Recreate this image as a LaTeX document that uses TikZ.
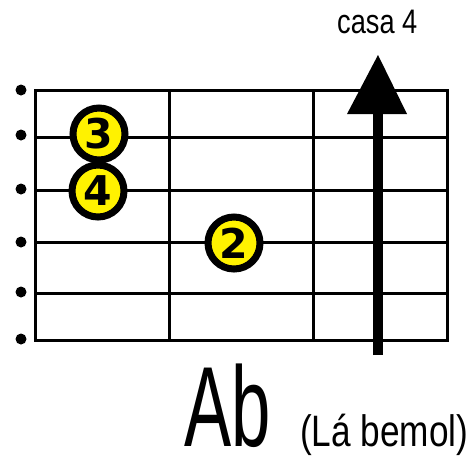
\documentclass[tikz,border=0pt]{standalone}
\usepackage{fontspec}
\setmainfont{Liberation Sans}
\newfontfamily\condbig[FakeStretch=0.62]{Liberation Sans}
\newfontfamily\condmid[FakeStretch=0.80]{Liberation Sans}
\newfontfamily\condsmall[FakeStretch=0.80]{Liberation Sans}
\newfontfamily\digitfont{DejaVu Sans}
\begin{document}
\begin{tikzpicture}[x=1pt,y=-1pt,
  gridline/.style={line width=3pt},
  stringdot/.style={circle,fill=black,inner sep=0pt,minimum size=11pt},
  finger/.style={circle,draw=black,line width=7pt,fill=yellow,minimum size=52pt,inner sep=0pt,
    font=\digitfont\bfseries\fontsize{41}{41}\selectfont},
  lbl/.style={inner sep=0pt,anchor=base west}]
\useasboundingbox (0,0) rectangle (473,456);
% strings
\foreach \y [count=\i] in {90,137,190,242,293,340}{
  \coordinate (sl\i) at (35,\y);
  \coordinate (sr\i) at (447,\y);
  \draw[gridline] (sl\i) -- (sr\i);
}
% frets
\foreach \x [count=\i] in {35,169,313,447}{
  \coordinate (ft\i) at (\x,90);
  \coordinate (fb\i) at (\x,340);
  \draw[gridline] (ft\i) -- (fb\i);
}
\draw[gridline] (35,90) rectangle (447,340);
% dots
\foreach \y [count=\i] in {90,135,189,242,292,339}{
  \node[stringdot] (d\i) at (21,\y) {};
}
% arrow
\coordinate (ab) at (378,355);
\coordinate (at) at (378,112);
\draw[line width=10pt] (ab) -- (at);
\fill (347,114) -- (407,114) -- (378,55) -- cycle;
% fingers
\node[finger] (f3) at (99,134) {3};
\node[finger] (f4) at (98,191) {4};
\node[finger] (f2) at (234,243) {2};
% labels
\node[lbl,font=\condsmall\fontsize{34}{34}\selectfont] (casa) at (337,33) {casa 4};
\node[lbl,font=\condbig\fontsize{114}{114}\selectfont] (chord) at (184,446) {Ab};
\node[lbl,font=\condmid\fontsize{44}{44}\selectfont] (la) at (300,446) {(Lá bemol)};
\end{tikzpicture}
\end{document}
